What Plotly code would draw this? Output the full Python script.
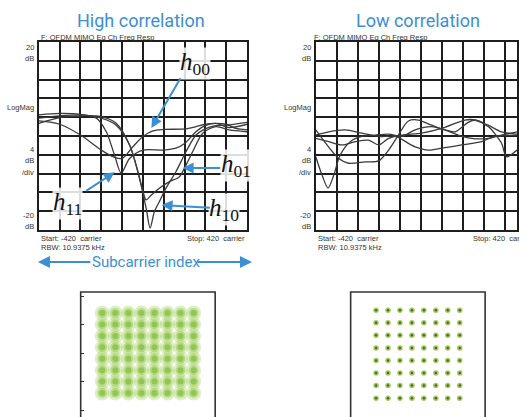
import itertools
import plotly.graph_objects as go

W, H = 519, 417

# ---- channel frequency response traces (carrier index, dB) ----
hi_h00_c = [-420, -336, -252, -168, -121, -84, -41, 0, 40, 84, 168, 214, 251, 294, 336, 375, 420]
hi_h00_db = [3.2, 2.5, 0.2, -3.0, -4.4, -4.8, -2.3, -0.1, 1.1, 1.4, 1.5, 2.0, 2.5, 2.7, 2.5, 1.6, 1.3]

hi_h11_c = [-420, -336, -252, -188, -148, -115, -88, -54, 0, 84, 133, 168, 214, 251, 294, 348, 420]
hi_h11_db = [4.5, 4.8, 4.6, 3.8, 0.9, -4.0, -7.9, -4.8, -3.0, -3.0, -2.6, -1.6, 0.9, 2.2, 2.7, 1.8, 2.5]

hi_h10_c = [-420, -336, -252, -168, -108, -54, -14, 13, 29, 46, 66, 93, 133, 174, 214, 251, 294, 336, 420]
hi_h10_db = [3.8, 4.3, 4.5, 3.8, 2.3, -1.9, -9.0, -15.4, -19.6, -16.1, -14.0, -11.1, -7.6, -3.3, 0.2, 1.5, 2.2, 2.3, 2.9]

hi_h01_c = [-420, -336, -252, -168, -108, -54, -20, 0, 13, 33, 66, 107, 147, 167, 201, 241, 294, 348, 420]
hi_h01_db = [2.7, 3.9, 4.3, 4.1, 2.7, -1.9, -7.6, -11.8, -13.6, -12.6, -11.1, -9.7, -8.7, -6.9, -3.3, 0.6, 2.0, 1.3, 0.9]

lo_a_c = [-420, -328, -289, -222, -169, -129, -90, -50, -10, 43, 96, 136, 189, 216, 269, 322, 384]
lo_a_db = [1.3, -4.8, -5.8, -5.5, -5.3, -3.0, 0.2, 3.2, 3.4, 2.3, 1.3, 0.9, 2.9, 3.4, 2.3, 0.9, 0.4]

lo_b_c = [-420, -395, -371, -348, -322, -282, -236, -182, -129, -76, -23, 43, 96, 163, 216, 269, 322, 384]
lo_b_db = [-4.4, -8.3, -11.1, -8.3, -4.0, -1.2, -0.1, 0.2, 0.4, -0.1, 1.3, 2.0, 1.3, -0.1, -0.6, -0.5, 0.2, 0.9]

lo_c_c = [-420, -368, -302, -236, -169, -103, -23, 30, 83, 163, 242, 295, 384]
lo_c_db = [0.2, 0.9, 1.3, 0.6, -0.1, -0.1, -2.3, -3.0, -2.6, -1.9, -1.2, -0.1, 0.2]

lo_d_c = [-420, -368, -315, -262, -209, -169, -129, -76, 3, 83, 176, 216, 269, 322, 342, 384]
lo_d_db = [-0.5, -1.2, -1.9, -1.2, -0.9, -1.9, -0.5, 0.2, 0.6, 1.6, 3.4, 3.4, 2.0, -1.5, -4.4, -3.0]

# ---- 64-QAM ideal levels ----
qam_levels = [-7, -5, -3, -1, 1, 3, 5, 7]

# ---- text ----
title_hi = "High correlation"
title_lo = "Low correlation"
trace_name = "F: OFDM MIMO Eq Ch Freq Resp"
start_txt = "Start: -420  carrier"
stop_txt = "Stop: 420  carrier"
rbw_txt = "RBW: 10.9375 kHz"
axis_label = "Subcarrier index"

BLUE = "#3b8fd2"
GREEN = "#93c947"
TRACE = "#3a3a3a"
GRID = "#1e1e1e"


def px(x):
    return x / W


def py(y):
    return 1 - y / H


fig = go.Figure()

# left analyser plot: x/y ; right: x2/y2 ; constellations: x3/y3, x4/y4
for c, d in [(hi_h00_c, hi_h00_db), (hi_h11_c, hi_h11_db),
             (hi_h10_c, hi_h10_db), (hi_h01_c, hi_h01_db)]:
    fig.add_trace(go.Scatter(x=c, y=d, mode="lines", xaxis="x", yaxis="y",
                             line=dict(color=TRACE, width=1.3, shape="spline", smoothing=0.8),
                             showlegend=False, hoverinfo="skip"))

for c, d in [(lo_a_c, lo_a_db), (lo_b_c, lo_b_db), (lo_c_c, lo_c_db), (lo_d_c, lo_d_db)]:
    fig.add_trace(go.Scatter(x=c, y=d, mode="lines", xaxis="x2", yaxis="y2",
                             line=dict(color=TRACE, width=1.3, shape="spline", smoothing=0.8),
                             showlegend=False, hoverinfo="skip"))

qi = [p[0] for p in itertools.product(qam_levels, qam_levels)]
qq = [p[1] for p in itertools.product(qam_levels, qam_levels)]

# high-correlation constellation: wide, overlapping received clouds
for size, col, op in [(15, GREEN, 0.3), (10, GREEN, 0.5), (6, "#78b531", 0.6)]:
    fig.add_trace(go.Scatter(x=qi, y=qq, mode="markers", xaxis="x3", yaxis="y3",
                             marker=dict(size=size, color=col, opacity=op, line=dict(width=0)),
                             showlegend=False, hoverinfo="skip"))
fig.add_trace(go.Scatter(x=qi, y=qq, mode="markers", xaxis="x3", yaxis="y3",
                         marker=dict(size=5, color="rgba(0,0,0,0)", symbol="circle-open",
                                     line=dict(color="#111", width=1.3)),
                         showlegend=False, hoverinfo="skip"))

# low-correlation constellation: tight clusters
fig.add_trace(go.Scatter(x=qi, y=qq, mode="markers", xaxis="x4", yaxis="y4",
                         marker=dict(size=5.5, color=GREEN, opacity=0.9, line=dict(width=0)),
                         showlegend=False, hoverinfo="skip"))
fig.add_trace(go.Scatter(x=qi, y=qq, mode="markers", xaxis="x4", yaxis="y4",
                         marker=dict(size=2.5, color="#333", opacity=0.7, line=dict(width=0)),
                         showlegend=False, hoverinfo="skip"))

grid_axis = dict(showgrid=True, gridcolor=GRID, gridwidth=1.6, zeroline=False,
                 showticklabels=False, ticks="", showline=True, linecolor=GRID,
                 linewidth=1.6, mirror=True)

lay = dict(
    width=W, height=H, margin=dict(l=0, r=0, t=0, b=0),
    paper_bgcolor="white", plot_bgcolor="white",
    xaxis=dict(domain=[px(39), px(248)], range=[-420, 420], tick0=-420, dtick=84, **grid_axis),
    yaxis=dict(domain=[py(230), py(42)], range=[-20, 20], tick0=-20, dtick=4, **grid_axis),
    xaxis2=dict(domain=[px(317), 1.0], range=[-420, 384], tick0=-420, dtick=84, **grid_axis),
    yaxis2=dict(domain=[py(230), py(42)], range=[-20, 20], tick0=-20, dtick=4, anchor="x2",
                **grid_axis),
    xaxis3=dict(domain=[px(81), px(216)], range=[-10.3, 10.3], visible=False),
    yaxis3=dict(domain=[0, py(292)], range=[-11.2, 10.7], anchor="x3", showgrid=False,
                zeroline=False, showticklabels=False, ticks="inside", ticklen=3,
                tickcolor="#333", dtick=5, tick0=0, showline=False),
    xaxis4=dict(domain=[px(352), px(487)], range=[-11.25, 11.25], visible=False),
    yaxis4=dict(domain=[0, py(292)], range=[-10, 9.9], anchor="x4", visible=False),
)
fig.update_layout(**lay)

# constellation frames (open at the bottom edge of the page)
for x0, x1 in [(81, 216), (352, 487)]:
    fig.add_shape(type="rect", xref="paper", yref="paper",
                  x0=px(x0), x1=px(x1), y0=py(430), y1=py(292),
                  line=dict(color="#333", width=1.6), fillcolor="rgba(0,0,0,0)")

ann = []
small = dict(family="Liberation Sans, Arial, sans-serif", size=7.5, color="#333")


def txt(x, y, s, xanchor="left", font=small):
    ann.append(dict(x=px(x), y=py(y), xref="paper", yref="paper", text=s, showarrow=False,
                    xanchor=xanchor, yanchor="middle", font=font))


title_font = dict(family="Roboto, Noto Sans, sans-serif", size=18, color=BLUE)
txt(142, 20, title_hi, "center", title_font)
txt(420, 20, title_lo, "center", title_font)

for gx in (39, 313):
    txt(gx, 37, trace_name)

for rx in (36, 314):
    txt(rx, 48, "20", "right")
    txt(rx, 58, "dB", "right")
    txt(rx, 108, "LogMag", "right")
    txt(rx, 149, "4", "right")
    txt(rx, 160, "dB", "right")
    txt(rx, 172, "/div", "right")
    txt(rx, 215, "-20", "right")
    txt(rx, 227, "dB", "right")

txt(39, 238, start_txt)
txt(39, 247, rbw_txt)
txt(248, 238, stop_txt, "right")
txt(317, 238, start_txt)
txt(317, 247, rbw_txt)
txt(473, 238, stop_txt)

# subcarrier index axis arrows
txt(147, 262, axis_label, "center", dict(family="Roboto, Noto Sans, sans-serif", size=15, color=BLUE))
ann.append(dict(x=px(38), y=py(262), xref="paper", yref="paper", text="", showarrow=True,
                ax=54, ay=0, arrowhead=2, arrowsize=1.1, arrowwidth=2.2, arrowcolor=BLUE))
ann.append(dict(x=px(253), y=py(262), xref="paper", yref="paper", text="", showarrow=True,
                ax=-56, ay=0, arrowhead=2, arrowsize=1.1, arrowwidth=2.2, arrowcolor=BLUE))

# channel labels with pointer arrows (left analyser plot)
hfont = dict(family="Liberation Serif, Times New Roman, serif", size=25, color="#111")
labels = [
    # text, label pos (carrier, dB), arrow tail, arrow tip
    ("<i>h</i><sub>00</sub>", (212, 15.5), (155, 12.6), (34, 1.7)),
    ("<i>h</i><sub>01</sub>", (376, -6.2), (318, -6.8), (160, -6.8)),
    ("<i>h</i><sub>11</sub>", (-303, -14.3), (-235, -11.9), (-114, -7.7)),
    ("<i>h</i><sub>10</sub>", (328, -15.7), (276, -15.3), (75, -14.7)),
]
for s, (lx, ly), (tx, ty), (hx, hy) in labels:
    ann.append(dict(x=lx, y=ly, xref="x", yref="y", text=s, showarrow=False,
                    font=hfont, bgcolor="rgba(255,255,255,0.85)", borderpad=0))
    ann.append(dict(x=hx, y=hy, xref="x", yref="y", ax=tx, ay=ty, axref="x", ayref="y",
                    text="", showarrow=True, arrowhead=2, arrowsize=1.1, arrowwidth=2,
                    arrowcolor=BLUE, standoff=0))

fig.update_layout(annotations=ann)
fig.write_html("out.html")
